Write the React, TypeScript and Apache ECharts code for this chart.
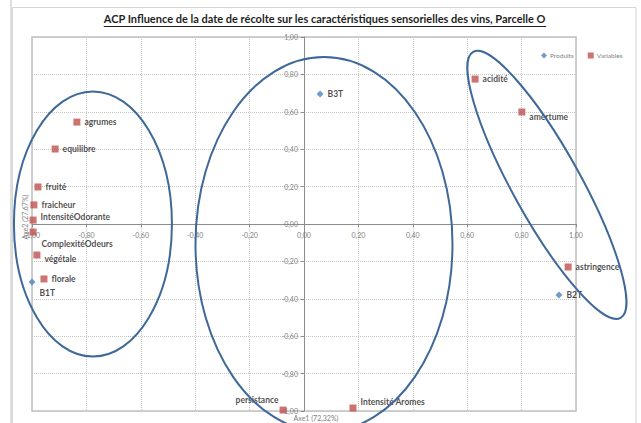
import React, { useEffect, useRef } from "react";
import * as echarts from "echarts";

const TITLE =
  "ACP Influence de la date de récolte sur les caractéristiques sensorielles des vins, Parcelle O";
const AXIS1_NAME = "Axe1 (72,32%)";
const AXIS2_NAME = "Axe2 (27,67%)";
const LEGEND_PRODUCTS = "Produits";
const LEGEND_VARIABLES = "Variables";

const axisMin = -1;
const axisMax = 1;
const axisStep = 0.2;

const productNames = ["B3T", "B1T", "B2T"];
const productX = [0.059, -1.0, 0.9375];
const productY = [0.695, -0.31, -0.38];

const variableNames = [
  "agrumes",
  "equilibre",
  "fruité",
  "fraicheur",
  "IntensitéOdorante",
  "ComplexitéOdeurs",
  "végétale",
  "florale",
  "acidité",
  "amertume",
  "astringence",
  "persistance",
  "Intensité Aromes",
];
const variableX = [-0.835, -0.915, -0.978, -0.993, -0.996, -0.996, -0.982, -0.956, 0.629, 0.801, 0.971, -0.077, 0.18];
const variableY = [0.545, 0.401, 0.198, 0.102, 0.021, -0.043, -0.166, -0.294, 0.775, 0.599, -0.23, -0.995, -0.984];

// group ellipses: centre in data units, radii in pixels, rotation in degrees
const ellipseCenterX = [-0.776, 0.0735, 0.893];
const ellipseCenterY = [0.0, -0.109, 0.209];
const ellipseRx = [79, 128.5, 34];
const ellipseRy = [132.5, 187.3, 152];
const ellipseRot = [0, 0, 29];

const labelPlacement: Record<string, { pos: string; off: [number, number] }> = {
  IntensitéOdorante: { pos: "right", off: [0, -3] },
  ComplexitéOdeurs: { pos: "right", off: [1, 12] },
  végétale: { pos: "right", off: [0, 4] },
  B1T: { pos: "right", off: [0, 11] },
  amertume: { pos: "right", off: [0, 5] },
  persistance: { pos: "left", off: [3, -10] },
  "Intensité Aromes": { pos: "right", off: [0, -6] },
};

const FONT = "Lato, 'Noto Sans', sans-serif";
const BLUE = "#4F81BD";
const RED = "#C0504D";
const ELLIPSE = "#3E6899";

const GRID_LEFT = 32;
const GRID_TOP = 37;
const GRID_W = 544;
const GRID_H = 374;

function fmt(v: number) {
  if (Math.abs(v) < 1e-9) return "0,00";
  return v.toFixed(2).replace(".", ",");
}

function buildPoints(names: string[], xs: number[], ys: number[]) {
  return names.map((n, i) => {
    const p = labelPlacement[n] || { pos: "right", off: [0, 0] };
    return {
      name: n,
      value: [xs[i], ys[i]],
      label: { position: p.pos, offset: p.off },
    };
  });
}

export default function App() {
  const ref = useRef<HTMLDivElement>(null);

  useEffect(() => {
    if (!ref.current) return;
    const chart = echarts.init(ref.current, undefined, { renderer: "svg" });

    const TITLE_SIZE = 11;
    const ctx = document.createElement("canvas").getContext("2d")!;
    ctx.font = `bold ${TITLE_SIZE}px Lato`;
    const titleW = ctx.measureText(TITLE).width;
    const titleCenter = 325;
    const titleLeft = titleCenter - titleW / 2;

    const labelCommon = {
      show: true,
      formatter: "{b}",
      color: "#1a1a1a",
      fontWeight: "bold" as const,
      fontSize: 8.5,
      fontFamily: FONT,
      distance: 4,
    };

    const axisCommon = {
      type: "value" as const,
      min: axisMin,
      max: axisMax,
      interval: axisStep,
      axisLine: { show: true, onZero: false, lineStyle: { color: "#8c8c8c", width: 1 } },
      axisTick: { show: true, length: 3, lineStyle: { color: "#8c8c8c" } },
      splitLine: { show: true, lineStyle: { color: "#c6c6c6", type: "dotted" as const, width: 1 } },
      axisLabel: {
        formatter: fmt,
        color: "#808080",
        fontSize: 7,
        fontFamily: FONT,
        showMinLabel: true,
        showMaxLabel: true,
        hideOverlap: false,
      },
    };

    const option: any = {
      animation: false,
      backgroundColor: "#ffffff",
      title: {
        text: TITLE,
        left: titleLeft,
        top: 13,
        padding: 0,
        textStyle: { fontSize: TITLE_SIZE, fontWeight: "bold", color: "#1f1f1f", fontFamily: "Lato" },
      },
      legend: {
        left: 541,
        top: 52,
        padding: 0,
        itemWidth: 6,
        itemHeight: 6,
        itemGap: 14,
        textStyle: { fontSize: 6.5, color: "#808080", fontFamily: FONT, padding: [0, 0, 0, -2] },
        data: [
          { name: LEGEND_PRODUCTS, icon: "diamond" },
          { name: LEGEND_VARIABLES, icon: "rect" },
        ],
      },
      grid: {
        left: GRID_LEFT,
        top: GRID_TOP,
        width: GRID_W,
        height: GRID_H,
        show: true,
        borderColor: "#c0c0c0",
        borderWidth: 1.5,
        backgroundColor: "transparent",
      },
      xAxis: {
        ...axisCommon,
        position: "bottom",
        offset: -GRID_H / 2,
        axisLabel: { ...axisCommon.axisLabel, margin: 7 },
      },
      yAxis: {
        ...axisCommon,
        position: "left",
        offset: -GRID_W / 2,
        axisLabel: { ...axisCommon.axisLabel, margin: 6 },
      },
      series: [
        {
          name: LEGEND_PRODUCTS,
          type: "scatter",
          symbol: "diamond",
          symbolSize: 7,
          itemStyle: { color: BLUE },
          label: labelCommon,
          data: buildPoints(productNames, productX, productY),
          z: 3,
        },
        {
          name: LEGEND_VARIABLES,
          type: "scatter",
          symbol: "rect",
          symbolSize: 7,
          itemStyle: { color: RED },
          label: labelCommon,
          data: buildPoints(variableNames, variableX, variableY),
          z: 3,
        },
      ],
    };

    chart.setOption(option);

    const ellipses = ellipseCenterX.map((cx, i) => {
      const [px, py] = chart.convertToPixel({ gridIndex: 0 }, [cx, ellipseCenterY[i]]) as number[];
      return {
        type: "ellipse",
        x: px,
        y: py,
        rotation: (ellipseRot[i] * Math.PI) / 180,
        shape: { cx: 0, cy: 0, rx: ellipseRx[i], ry: ellipseRy[i] },
        style: { fill: "none", stroke: ELLIPSE, lineWidth: 2 },
        z: 100,
        silent: true,
      };
    });

    chart.setOption({
      graphic: [
        {
          type: "rect",
          shape: { x: 12.5, y: 7.5, width: 623.5, height: 440 },
          style: { fill: "none", stroke: "#d4d4d4", lineWidth: 1 },
          z: -10,
          silent: true,
        },
        {
          type: "line",
          shape: { x1: 11, y1: 0, x2: 11, y2: 423 },
          style: { stroke: "#d4d4d4", lineWidth: 1.5 },
          z: -10,
          silent: true,
        },
        {
          type: "line",
          shape: { x1: titleLeft, y1: 26.5, x2: titleLeft + titleW, y2: 26.5 },
          style: { stroke: "#1f1f1f", lineWidth: 1 },
          silent: true,
        },
        {
          type: "text",
          x: 316,
          y: 418,
          style: {
            text: AXIS1_NAME,
            fill: "#808080",
            fontSize: 7,
            fontFamily: FONT,
            align: "center",
            verticalAlign: "middle",
          },
          silent: true,
        },
        {
          type: "text",
          x: 25,
          y: 217,
          rotation: Math.PI / 2,
          style: {
            text: AXIS2_NAME,
            fill: "#808080",
            fontSize: 7,
            fontFamily: FONT,
            align: "center",
            verticalAlign: "middle",
          },
          silent: true,
        },
        ...ellipses,
      ],
    });

    return () => chart.dispose();
  }, []);

  return (
    <div
      ref={ref}
      style={{ position: "absolute", left: 0, top: 0, width: 641, height: 423 }}
    />
  );
}
